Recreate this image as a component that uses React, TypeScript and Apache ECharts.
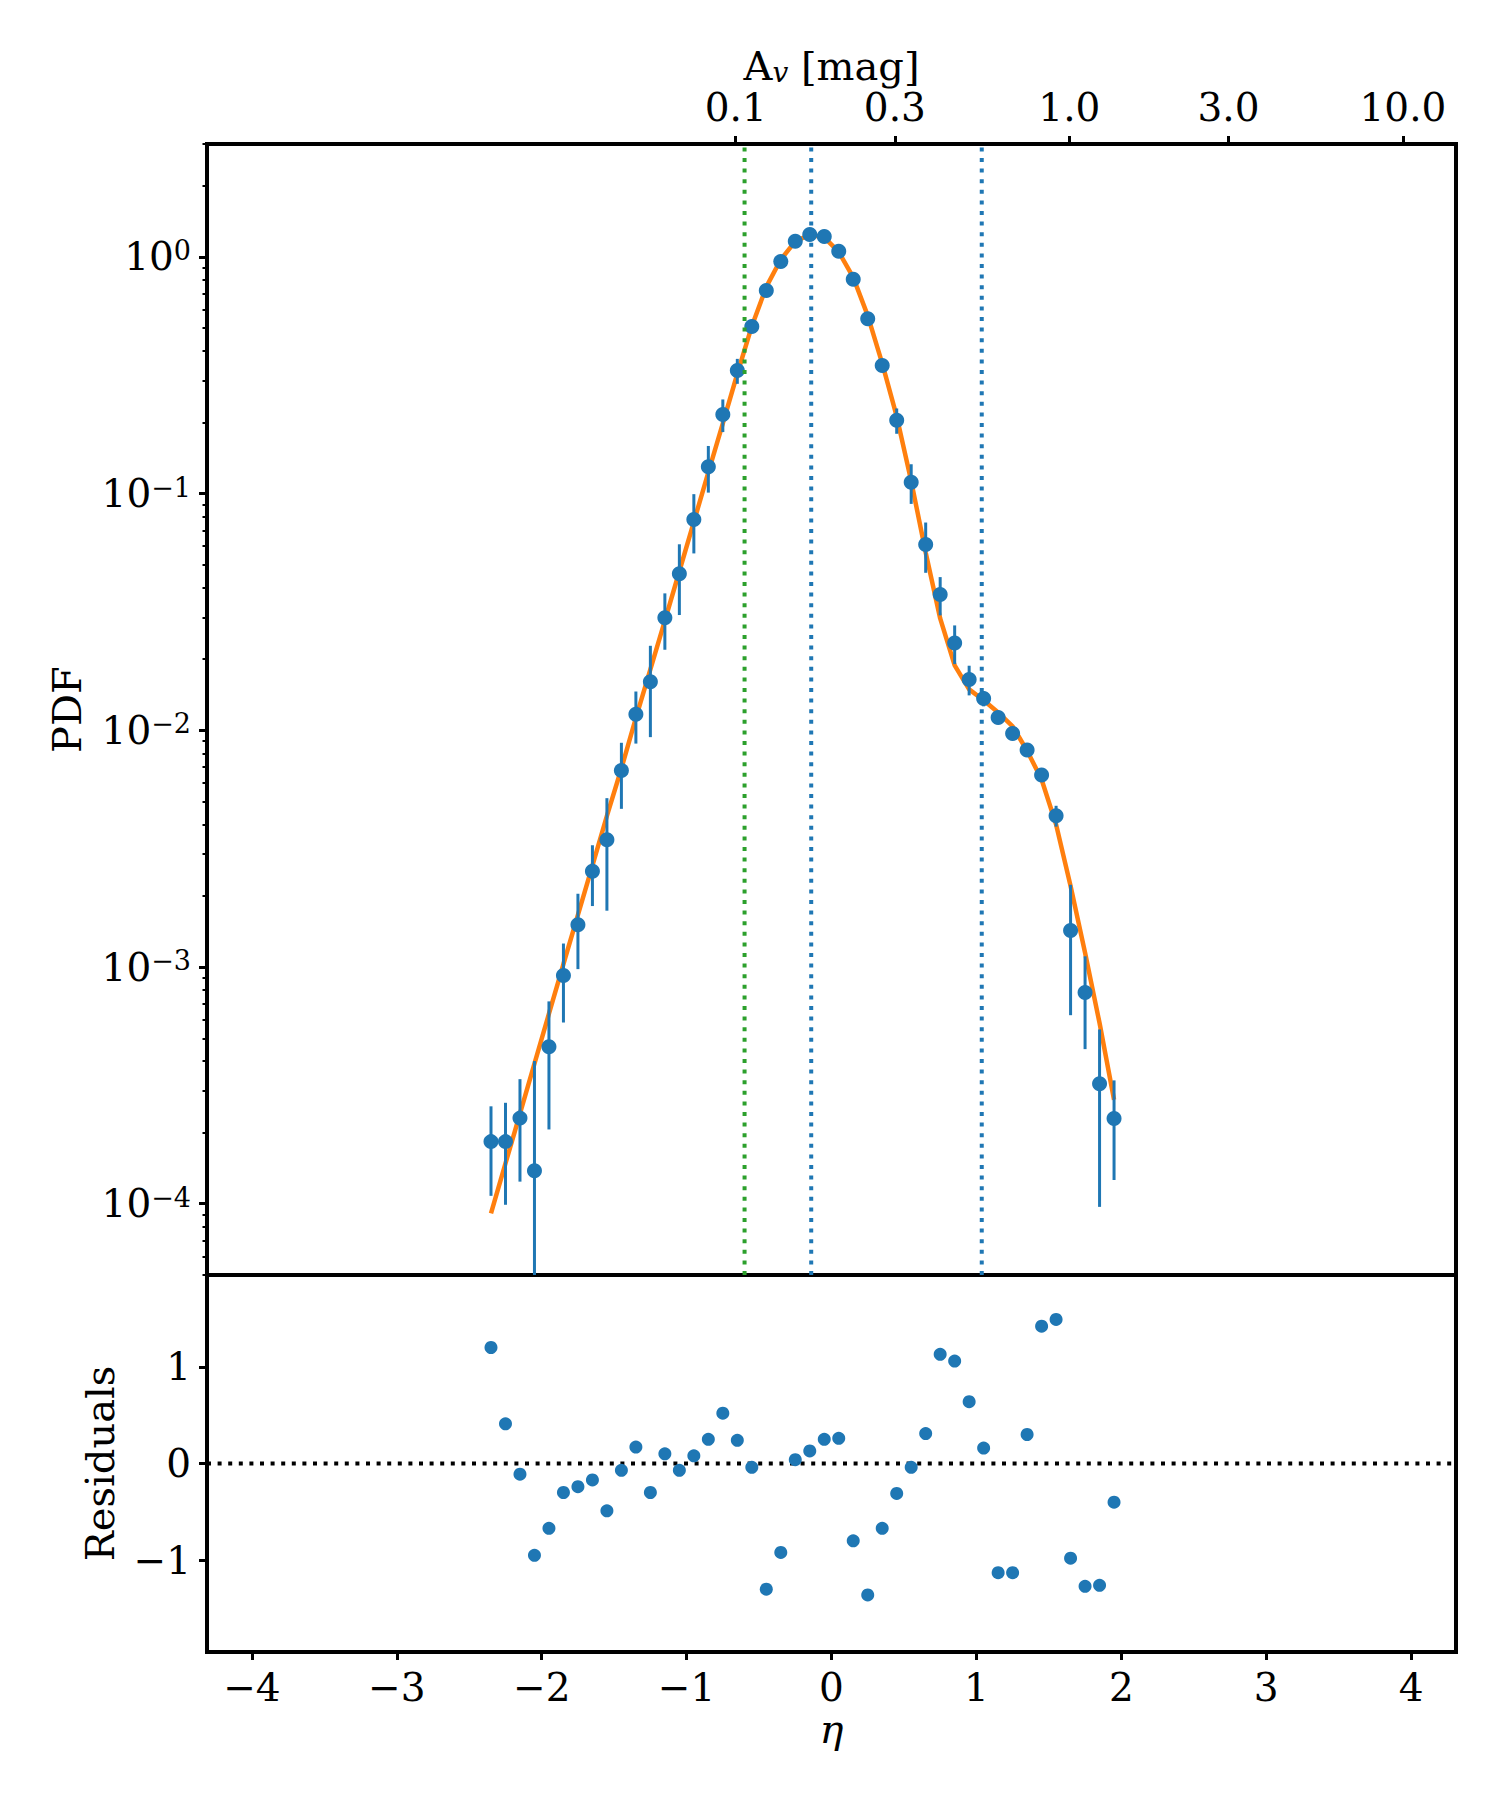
import React, { useEffect, useRef } from "react";
import * as echarts from "echarts";

// ---------------- data ----------------
const ETA = [
  -2.35, -2.25, -2.15, -2.05, -1.95, -1.85, -1.75, -1.65, -1.55, -1.45, -1.35,
  -1.25, -1.15, -1.05, -0.95, -0.85, -0.75, -0.65, -0.55, -0.45, -0.35, -0.25,
  -0.15, -0.05, 0.05, 0.15, 0.25, 0.35, 0.45, 0.55, 0.65, 0.75, 0.85, 0.95,
  1.05, 1.15, 1.25, 1.35, 1.45, 1.55, 1.65, 1.75, 1.85, 1.95,
];

const PDF = [
  1.83e-4, 1.83e-4, 2.3e-4, 1.38e-4, 4.61e-4, 9.2e-4, 1.51e-3, 2.54e-3, 3.45e-3,
  6.76e-3, 0.01169, 0.01606, 0.0299, 0.0459, 0.0777, 0.13, 0.216, 0.331, 0.508,
  0.721, 0.956, 1.165, 1.245, 1.22, 1.057, 0.804, 0.548, 0.348, 0.204, 0.1118,
  0.0609, 0.0375, 0.0234, 0.0164, 0.01363, 0.01133, 0.00969, 0.00825, 0.00648,
  0.00436, 0.001426, 7.8e-4, 3.21e-4, 2.29e-4,
];

const PDF_ERR = [
  7.5e-5, 8.4e-5, 1.06e-4, 2.63e-4, 2.55e-4, 3.37e-4, 5.3e-4, 7.3e-4, 1.72e-3,
  2.1e-3, 2.9e-3, 6.7e-3, 8.0e-3, 0.0152, 0.0218, 0.029, 0.034, 0.04, 0.02,
  0.02, 0.02, 0.02, 0.02, 0.02, 0.02, 0.02, 0.012, 0.01, 0.025, 0.0213, 0.0146,
  0.0069, 0.00435, 0.00235, 0.001, 5e-4, 5e-4, 5e-4, 3e-4, 4.4e-4, 8.0e-4,
  3.3e-4, 2.24e-4, 1.03e-4,
];

const MODEL = [
  9.1e-5, 1.48e-4, 2.4e-4, 3.91e-4, 6.35e-4, 1.03e-3, 1.66e-3, 2.68e-3, 4.35e-3,
  6.9e-3, 0.0113, 0.0181, 0.0291, 0.047, 0.076, 0.123, 0.198, 0.321, 0.51,
  0.747, 0.975, 1.163, 1.24, 1.21, 1.05, 0.82, 0.565, 0.355, 0.212, 0.113,
  0.0564, 0.0297, 0.0188, 0.0149, 0.0134, 0.0119, 0.0104, 0.0082, 0.0062,
  0.004, 0.0022, 0.00115, 5.8e-4, 2.75e-4,
];

const RESIDUALS = [
  1.2, 0.41, -0.11, -0.95, -0.67, -0.3, -0.24, -0.17, -0.49, -0.07, 0.17, -0.3,
  0.1, -0.07, 0.08, 0.25, 0.52, 0.24, -0.04, -1.3, -0.92, 0.04, 0.13, 0.25,
  0.26, -0.8, -1.36, -0.67, -0.31, -0.04, 0.31, 1.13, 1.06, 0.64, 0.16, -1.13,
  -1.13, 0.3, 1.42, 1.49, -0.98, -1.27, -1.26, -0.4,
];

const X_TICKS = [-4, -3, -2, -1, 0, 1, 2, 3, 4];
const PDF_DECADES = [-4, -3, -2, -1, 0];
const RES_TICKS = [-1, 0, 1];
const AV_TICKS = [0.1, 0.3, 1.0, 3.0, 10.0];
const AV_TICK_LABELS = ["0.1", "0.3", "1.0", "3.0", "10.0"];
const AV_REF = 0.1937; // A_v at eta = 0
const GREEN_LINES_ETA = [-0.6];
const BLUE_LINES_ETA = [-0.14, 1.037];
const X_RANGE = [-4.31, 4.31];
const PDF_RANGE = [5e-5, 3];
const RES_RANGE = [-1.95, 1.95];

// ---------------- styling ----------------
const FONT = "DejaVu Serif";
const BLUE = "#1f77b4";
const ORANGE = "#ff7f0e";
const GREEN = "#2ca02c";
const TICK_FS = 39;
const LABEL_FS = 40;

const minus = (s: string) => s.replace("-", "\u2212");

function buildOption() {
  const lg = Math.log10;
  const yMin = lg(PDF_RANGE[0]);
  const yMax = lg(PDF_RANGE[1]);

  const minorTicks: number[] = [];
  for (let e = -5; e <= 0; e++) {
    for (let k = 2; k <= 9; k++) {
      const v = lg(k) + e;
      if (v >= yMin - 1e-6 && v <= yMax + 1e-6) {
        minorTicks.push(Math.min(Math.max(v, yMin), yMax));
      }
    }
  }

  const avPos = AV_TICKS.map((a) => Math.log(a / AV_REF));

  const majorTick = {
    show: true,
    length: 8,
    lineStyle: { color: "#000", width: 3 },
  };
  const noLine = { show: false, onZero: false };
  const noSplit = { show: false };

  const vline = (eta: number, color: string) => ({
    type: "line",
    xAxisIndex: 0,
    yAxisIndex: 0,
    data: [
      [eta, yMin],
      [eta, yMax],
    ],
    symbol: "none",
    silent: true,
    lineStyle: { color, width: 4, type: [4, 6.6], cap: "butt" },
    z: 6,
  });

  const GRID_LEFT = 207;
  const GRID_WIDTH = 1249;

  return {
    animation: false,
    backgroundColor: "#ffffff",
    grid: [
      {
        left: GRID_LEFT,
        top: 144,
        width: GRID_WIDTH,
        height: 1131,
        show: true,
        borderColor: "#000",
        borderWidth: 4,
        backgroundColor: "transparent",
      },
      {
        left: GRID_LEFT,
        top: 1275,
        width: GRID_WIDTH,
        height: 377,
        show: true,
        borderColor: "#000",
        borderWidth: 4,
        backgroundColor: "transparent",
      },
    ],
    xAxis: [
      {
        gridIndex: 0,
        type: "value",
        min: X_RANGE[0],
        max: X_RANGE[1],
        position: "bottom",
        axisLine: noLine,
        axisTick: { show: false },
        axisLabel: { show: false },
        splitLine: noSplit,
      },
      {
        gridIndex: 0,
        type: "value",
        min: X_RANGE[0],
        max: X_RANGE[1],
        position: "top",
        axisLine: noLine,
        splitLine: noSplit,
        axisTick: { ...majorTick, customValues: avPos },
        axisLabel: {
          customValues: avPos,
          margin: 17,
          color: "#000",
          fontFamily: FONT,
          fontSize: TICK_FS,
          formatter: (v: number) => {
            const i = avPos.findIndex((p) => Math.abs(p - v) < 1e-6);
            return i >= 0 ? AV_TICK_LABELS[i] : "";
          },
        },
        name: "{a|A}{v|v}{a| [mag]}",
        nameLocation: "middle",
        nameGap: 58,
        nameMoveOverlap: false,
        nameTextStyle: {
          color: "#000",
          fontFamily: FONT,
          fontSize: LABEL_FS,
          rich: {
            a: { fontFamily: FONT, fontSize: LABEL_FS, lineHeight: 40, color: "#000" },
            v: {
              fontFamily: FONT,
              fontSize: 28,
              fontStyle: "italic",
              lineHeight: 22,
              verticalAlign: "bottom",
              color: "#000",
            },
          },
        },
      },
      {
        gridIndex: 1,
        type: "value",
        min: X_RANGE[0],
        max: X_RANGE[1],
        position: "bottom",
        axisLine: noLine,
        splitLine: noSplit,
        axisTick: { ...majorTick, customValues: X_TICKS },
        axisLabel: {
          customValues: X_TICKS,
          margin: 16,
          color: "#000",
          fontFamily: FONT,
          fontSize: TICK_FS,
          formatter: (v: number) => minus(String(v)),
        },
        name: "\u03b7",
        nameLocation: "middle",
        nameGap: 57,
        nameTextStyle: {
          color: "#000",
          fontFamily: FONT,
          fontSize: LABEL_FS,
          fontStyle: "italic",
        },
      },
    ],
    yAxis: [
      {
        gridIndex: 0,
        type: "value",
        min: yMin,
        max: yMax,
        position: "left",
        axisLine: noLine,
        splitLine: noSplit,
        axisTick: { ...majorTick, customValues: PDF_DECADES },
        axisLabel: {
          customValues: PDF_DECADES,
          margin: 16,
          formatter: (v: number) => {
            const e = Math.round(v);
            return "{b|10}{s|" + minus(String(e)) + "}";
          },
          rich: {
            b: { fontFamily: FONT, fontSize: TICK_FS, lineHeight: 40, color: "#000" },
            s: {
              fontFamily: FONT,
              fontSize: 27,
              lineHeight: 26,
              verticalAlign: "top",
              color: "#000",
            },
          },
        },
        name: "PDF",
        nameLocation: "middle",
        nameGap: 120,
        nameTextStyle: { color: "#000", fontFamily: FONT, fontSize: LABEL_FS },
      },
      {
        gridIndex: 0,
        type: "value",
        min: yMin,
        max: yMax,
        position: "left",
        axisLine: noLine,
        splitLine: noSplit,
        axisTick: {
          show: true,
          length: 4.5,
          lineStyle: { color: "#000", width: 2 },
          customValues: minorTicks,
        },
        axisLabel: { show: false },
      },
      {
        gridIndex: 1,
        type: "value",
        min: RES_RANGE[0],
        max: RES_RANGE[1],
        position: "left",
        axisLine: noLine,
        splitLine: noSplit,
        axisTick: { ...majorTick, customValues: RES_TICKS },
        axisLabel: {
          customValues: RES_TICKS,
          margin: 16,
          color: "#000",
          fontFamily: FONT,
          fontSize: TICK_FS,
          formatter: (v: number) => minus(String(v)),
        },
        name: "Residuals",
        nameLocation: "middle",
        nameGap: 87,
        nameTextStyle: { color: "#000", fontFamily: FONT, fontSize: LABEL_FS },
      },
    ],
    series: [
      {
        type: "line",
        name: "model",
        xAxisIndex: 0,
        yAxisIndex: 0,
        data: ETA.map((e, i) => [e, lg(MODEL[i])]),
        symbol: "none",
        showSymbol: false,
        silent: true,
        lineStyle: { color: ORANGE, width: 4.5 },
        z: 2,
      },
      {
        type: "custom",
        name: "errors",
        xAxisIndex: 0,
        yAxisIndex: 0,
        silent: true,
        data: ETA.map((e, i) => {
          const lo = PDF[i] - PDF_ERR[i];
          return [e, lo > 0 ? Math.max(lg(lo), yMin) : yMin, lg(PDF[i] + PDF_ERR[i])];
        }),
        encode: { x: 0, y: [1, 2] },
        renderItem: (_params: any, api: any) => {
          const p1 = api.coord([api.value(0), api.value(1)]);
          const p2 = api.coord([api.value(0), api.value(2)]);
          return {
            type: "line",
            shape: { x1: p1[0], y1: p1[1], x2: p2[0], y2: p2[1] },
            style: { stroke: BLUE, lineWidth: 3 },
          };
        },
        z: 3,
      },
      {
        type: "scatter",
        name: "pdf",
        xAxisIndex: 0,
        yAxisIndex: 0,
        data: ETA.map((e, i) => [e, lg(PDF[i])]),
        symbol: "circle",
        symbolSize: 15,
        itemStyle: { color: BLUE, opacity: 1 },
        z: 4,
      },
      ...GREEN_LINES_ETA.map((e) => vline(e, GREEN)),
      ...BLUE_LINES_ETA.map((e) => vline(e, BLUE)),
      {
        type: "line",
        name: "zero",
        xAxisIndex: 2,
        yAxisIndex: 2,
        data: [
          [X_RANGE[0], 0],
          [X_RANGE[1], 0],
        ],
        symbol: "none",
        silent: true,
        lineStyle: { color: "#000", width: 4, type: [4, 6.6], cap: "butt" },
        z: 3,
      },
      {
        type: "scatter",
        name: "residuals",
        xAxisIndex: 2,
        yAxisIndex: 2,
        data: ETA.map((e, i) => [e, RESIDUALS[i]]),
        symbol: "circle",
        symbolSize: 13,
        itemStyle: { color: BLUE, opacity: 1 },
        z: 4,
      },
    ],
  };
}

export default function App() {
  const ref = useRef<HTMLDivElement | null>(null);
  useEffect(() => {
    if (!ref.current) return;
    const chart = echarts.init(ref.current, null, { renderer: "svg" });
    chart.setOption(buildOption() as any);
    return () => chart.dispose();
  }, []);
  return (
    <div
      ref={ref}
      style={{
        position: "absolute",
        left: 0,
        top: 0,
        width: 1500,
        height: 1800,
        background: "#fff",
      }}
    />
  );
}
